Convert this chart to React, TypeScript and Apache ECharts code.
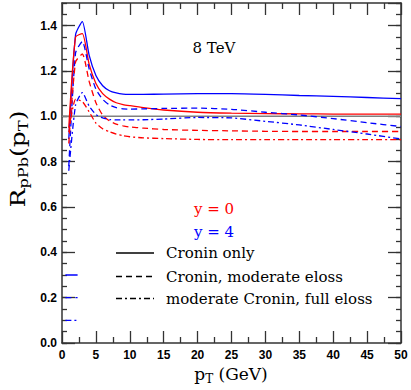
import React, { useEffect, useRef } from "react";
import * as echarts from "echarts";

const pT = [1, 2, 3, 4, 5, 6, 7, 8, 9, 10, 12, 15, 20, 25, 30, 35, 40, 45, 50];
const blueSolid = [0.9, 1.36, 1.418, 1.27, 1.18, 1.135, 1.113, 1.103, 1.098, 1.097, 1.097, 1.098, 1.1, 1.1, 1.097, 1.092, 1.088, 1.083, 1.078];
const redSolid = [0.95, 1.35, 1.365, 1.23, 1.145, 1.1, 1.076, 1.06, 1.052, 1.047, 1.038, 1.028, 1.018, 1.014, 1.012, 1.011, 1.01, 1.01, 1.01];
const blueDash = [0.78, 1.28, 1.33, 1.21, 1.12, 1.075, 1.05, 1.038, 1.033, 1.032, 1.033, 1.035, 1.036, 1.031, 1.018, 1.006, 0.99, 0.972, 0.955];
const redDash = [0.88, 1.24, 1.275, 1.155, 1.06, 1.005, 0.98, 0.966, 0.958, 0.953, 0.948, 0.942, 0.938, 0.936, 0.934, 0.933, 0.933, 0.933, 0.933];
const blueDashDot = [0.76, 1.05, 1.105, 1.045, 1.008, 0.993, 0.986, 0.984, 0.984, 0.984, 0.985, 0.988, 0.995, 0.993, 0.978, 0.962, 0.942, 0.922, 0.9];
const redDashDot = [0.93, 1.075, 1.065, 1.02, 0.97, 0.945, 0.932, 0.922, 0.915, 0.91, 0.905, 0.902, 0.898, 0.897, 0.897, 0.897, 0.897, 0.897, 0.897];

// small blue marks near the left axis
const markX = [0.5, 2.3];
const markSolidY = [0.3, 0.3];
const markDashY = [0.2, 0.2];
const markDashDotY = [0.1, 0.1];

const refX = [0, 50];
const refY = [1, 1];

const xTicks = [0, 5, 10, 15, 20, 25, 30, 35, 40, 45, 50];
const yTicks = ["0.0", "0.2", "0.4", "0.6", "0.8", "1.0", "1.2", "1.4"];

const legendLabels = ["Cronin only", "Cronin, moderate eloss", "moderate Cronin, full eloss"];

const RED = "#ff0000";
const BLUE = "#0000ff";
const DASH = [6, 4];
const DASHDOT = [6, 3, 2, 3];
const AXIS = "#333333";
const SERIF = "DejaVu Serif";

const zip = (xs: number[], ys: number[]) => xs.map((x, i) => [x, ys[i]]);

function curve(name: string, ys: number[], color: string, type: any) {
  return {
    name,
    type: "line",
    data: zip(pT, ys),
    symbol: "none",
    showSymbol: false,
    smooth: 0.2,
    lineStyle: { color, width: 1.3, type },
    z: 3,
  };
}

function mark(ys: number[], type: any) {
  return {
    type: "line",
    data: zip(markX, ys),
    symbol: "none",
    lineStyle: { color: BLUE, width: 1.3, type },
    z: 3,
  };
}

export default function App() {
  const ref = useRef<HTMLDivElement>(null);
  useEffect(() => {
    if (!ref.current) return;
    const chart = echarts.init(ref.current, undefined, { renderer: "svg" });
    const tickLabel = {
      fontFamily: "Liberation Sans",
      fontWeight: "bold" as const,
      fontSize: 12,
      color: "#000",
    };
    const xBase = (pos: "bottom" | "top", labels: boolean) => ({
      type: "value",
      position: pos,
      min: 0,
      max: 50,
      interval: 5,
      axisLine: { show: true, onZero: false, lineStyle: { color: AXIS, width: 1.5 } },
      axisTick: { show: true, inside: true, length: 12, lineStyle: { color: AXIS, width: 1.3 } },
      minorTick: { show: true, splitNumber: 2, length: 6, lineStyle: { color: AXIS, width: 1.3 } },
      splitLine: { show: false },
      minorSplitLine: { show: false },
      axisLabel: labels
        ? { show: true, margin: 6, ...tickLabel, formatter: (v: number) => (xTicks.includes(v) ? String(v) : "") }
        : { show: false },
    });
    const yBase = (pos: "left" | "right", major: boolean, labels: boolean) => ({
      type: "value",
      position: pos,
      min: 0,
      max: 1.5,
      interval: major ? 0.2 : 0.05,
      axisLine: { show: major, onZero: false, lineStyle: { color: AXIS, width: 1.5 } },
      axisTick: { show: true, inside: true, length: major ? 13 : 5, lineStyle: { color: AXIS, width: 1.3 } },
      splitLine: { show: false },
      axisLabel: labels
        ? {
            show: true,
            margin: 5,
            showMaxLabel: false,
            ...tickLabel,
            formatter: (v: number) => {
              const s = v.toFixed(1);
              return yTicks.includes(s) && Math.abs(v * 5 - Math.round(v * 5)) < 1e-6 ? s : "";
            },
          }
        : { show: false },
    });

    const legendY = [253, 276.5, 298.5];
    const legendDash: any[] = [null, DASH, DASHDOT];
    const graphic: any[] = [
      {
        type: "text",
        x: 214,
        y: 48,
        style: { text: "8 TeV", fontFamily: SERIF, fontSize: 15, fill: "#000", align: "center", verticalAlign: "middle" },
      },
      {
        type: "text",
        x: 214,
        y: 209,
        style: { text: "y = 0", fontFamily: SERIF, fontSize: 15, fill: RED, align: "center", verticalAlign: "middle" },
      },
      {
        type: "text",
        x: 214,
        y: 232,
        style: { text: "y = 4", fontFamily: SERIF, fontSize: 15, fill: BLUE, align: "center", verticalAlign: "middle" },
      },
      {
        type: "text",
        x: 18,
        y: 159,
        rotation: Math.PI / 2,
        scaleX: 1.25,
        scaleY: 1.05,
        style: {
          text: "{m|R}{s|pPb}{m|(p}{s|T}{m|)}",
          align: "center",
          verticalAlign: "middle",
          fill: "#000",
          rich: {
            m: { fontFamily: SERIF, fontSize: 20, lineHeight: 24, verticalAlign: "middle", fill: "#000" },
            s: { fontFamily: SERIF, fontSize: 13, lineHeight: 13, verticalAlign: "bottom", fill: "#000" },
          },
        },
      },
      {
        type: "text",
        x: 231,
        y: 374,
        style: {
          text: "{m|p}{s|T}{m| (GeV)}",
          align: "center",
          verticalAlign: "middle",
          fill: "#000",
          rich: {
            m: { fontFamily: SERIF, fontSize: 17, lineHeight: 22, verticalAlign: "middle", fill: "#000" },
            s: { fontFamily: SERIF, fontSize: 12, lineHeight: 12, verticalAlign: "bottom", fill: "#000" },
          },
        },
      },
    ];
    legendLabels.forEach((label, i) => {
      graphic.push({
        type: "line",
        shape: { x1: 116, y1: legendY[i], x2: 154, y2: legendY[i] },
        style: { stroke: "#000", lineWidth: 1.3, lineDash: legendDash[i] || undefined },
      });
      graphic.push({
        type: "text",
        x: 166,
        y: legendY[i],
        style: { text: label, fontFamily: SERIF, fontSize: 15, fill: "#000", align: "left", verticalAlign: "middle" },
      });
    });

    chart.setOption({
      animation: false,
      backgroundColor: "#fff",
      grid: { left: 62, right: 10, top: 3, bottom: 47, containLabel: false },
      xAxis: [xBase("bottom", true), xBase("top", false)],
      yAxis: [yBase("left", true, true), yBase("left", false, false), yBase("right", true, false), yBase("right", false, false)],
      series: [
        {
          type: "line",
          data: zip(refX, refY),
          symbol: "none",
          lineStyle: { color: "#808080", width: 1.5 },
          z: 2,
        },
        curve("blueSolid", blueSolid, BLUE, "solid"),
        curve("redSolid", redSolid, RED, "solid"),
        curve("blueDash", blueDash, BLUE, DASH),
        curve("redDash", redDash, RED, DASH),
        curve("blueDashDot", blueDashDot, BLUE, DASHDOT),
        curve("redDashDot", redDashDot, RED, DASHDOT),
        mark(markSolidY, "solid"),
        mark(markDashY, DASH),
        mark(markDashDotY, DASHDOT),
      ],
      graphic,
    });
    return () => chart.dispose();
  }, []);
  return <div ref={ref} style={{ position: "fixed", left: 0, top: 0, width: 411, height: 390 }} />;
}
